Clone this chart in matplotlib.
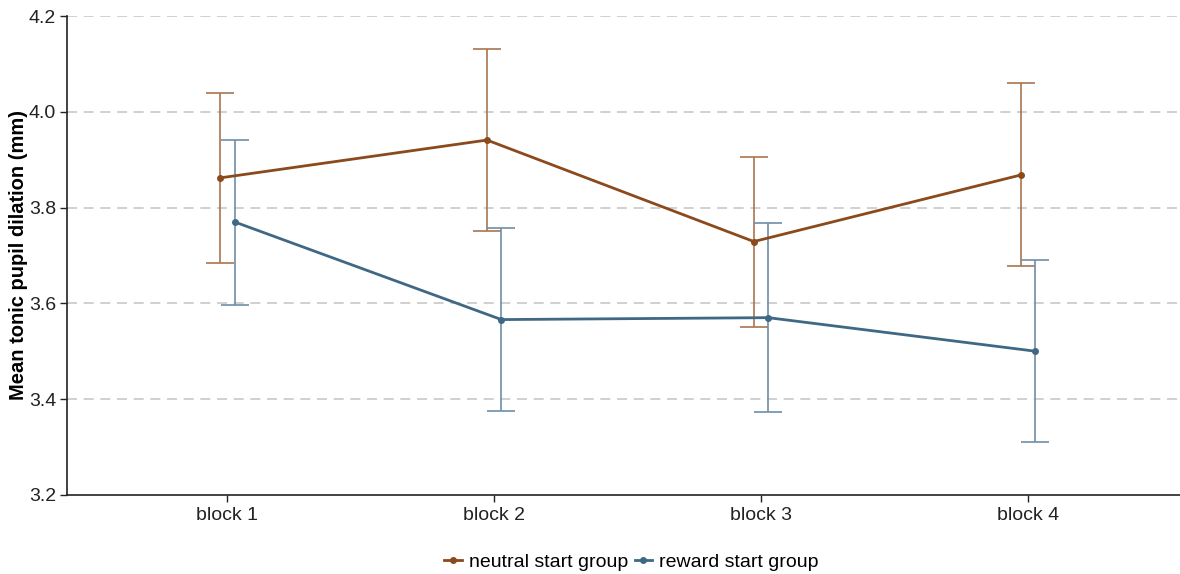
import numpy as np
import matplotlib
matplotlib.use("Agg")
import matplotlib.pyplot as plt

# Mean tonic pupil dilation per block, with upper/lower CI bounds
blocks = ["block 1", "block 2", "block 3", "block 4"]
neutral_mean = [3.862, 3.941, 3.729, 3.868]
neutral_hi = [4.040, 4.132, 3.906, 4.060]
neutral_lo = [3.685, 3.750, 3.551, 3.678]
reward_mean = [3.770, 3.566, 3.570, 3.500]
reward_hi = [3.942, 3.757, 3.768, 3.690]
reward_lo = [3.597, 3.376, 3.372, 3.310]

plt.rcParams["font.family"] = ["Liberation Sans", "DejaVu Sans"]

fig = plt.figure(figsize=(11.8, 5.74), dpi=100)
ax = fig.add_axes([0.057, 0.138, 0.943, 0.834])

x = np.arange(len(blocks))
groups = [
    ("neutral start group", neutral_mean, neutral_lo, neutral_hi, -0.027, "#8a4a1c", "#a8764f"),
    ("reward start group", reward_mean, reward_lo, reward_hi, 0.027, "#3f6885", "#6e8fa8"),
]
for label, m, lo, hi, dx, c_line, c_err in groups:
    m, lo, hi = np.array(m), np.array(lo), np.array(hi)
    ax.errorbar(x + dx, m, yerr=[m - lo, hi - m], fmt="none", ecolor=c_err,
                elinewidth=1.2, capsize=10, capthick=1.2, zorder=2)
    ax.plot(x + dx, m, color=c_line, lw=2, marker="o", ms=4, label=label, zorder=3)

ax.set_ylim(3.2, 4.2)
ax.set_yticks([3.2, 3.4, 3.6, 3.8, 4.0, 4.2])
ax.set_yticklabels(["3.2", "3.4", "3.6", "3.8", "4.0", "4.2"])
ax.set_xlim(-0.6, 3.57)
ax.set_xticks(x)
ax.set_xticklabels(blocks)
ax.tick_params(axis="both", labelsize=14, colors="#222222", length=5, width=1)
ax.tick_params(axis="y", pad=3)
ax.tick_params(axis="x", pad=4)

for yv in [3.4, 3.6, 3.8, 4.0, 4.2]:
    ax.axhline(yv, color="#c8c8c8", lw=1.2, ls=(0, (6, 4)), zorder=1)

for side in ["top", "right"]:
    ax.spines[side].set_visible(False)
for side in ["left", "bottom"]:
    ax.spines[side].set_color("#222222")
    ax.spines[side].set_linewidth(1.2)

ax.set_ylabel("Mean tonic pupil dilation (mm)", fontsize=14.5, fontweight="bold", labelpad=1)

ax.legend(loc="upper center", bbox_to_anchor=(0.507, -0.085), ncol=2, frameon=False,
          fontsize=14, handlelength=0.9, handletextpad=0.35, columnspacing=0.35)

fig.savefig("out.png", dpi=100)
